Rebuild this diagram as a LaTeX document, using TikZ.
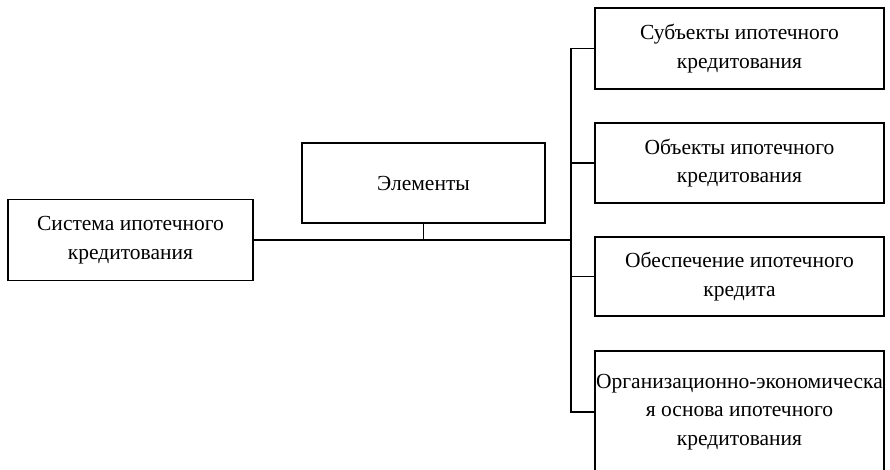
\documentclass[tikz,border=0pt]{standalone}
\usepackage{fontspec}
\setmainfont{Liberation Serif}
\tikzset{blk/.style={draw=black, line width=1.8pt, align=center, inner sep=0pt, font=\fontsize{21.5}{28.5}\selectfont},
         lnk/.style={black, line width=1.8pt}}

\begin{document}
\begin{tikzpicture}[x=1pt,y=-1pt]
\useasboundingbox (0,0) rectangle (890,470);
% left part
\node [blk, minimum width=245pt, minimum height=81pt] (sys) at (130.5,240) {Система ипотечного\\кредитования};
\node [blk, minimum width=243pt, minimum height=80pt] (elem) at (423.5,183) {Элементы};
% right column
\node [blk, minimum width=289pt, minimum height=81pt] (subj) at (739.5,48.5) {Субъекты ипотечного\\кредитования};
\node [blk, minimum width=289pt, minimum height=80pt] (obj) at (739.5,163) {Объекты ипотечного\\кредитования};
\node [blk, minimum width=289pt, minimum height=79pt] (sec) at (739.5,276.5) {Обеспечение ипотечного\\кредита};
\node [blk, minimum width=289pt, minimum height=122pt] (org) at (739.5,412) {Организационно-экономическа\\я основа ипотечного\\кредитования};
\coordinate (tr) at (571,240);
% connectors
\draw [lnk] (sys.east) -- (tr);
\draw [lnk] (elem.south) -- (elem.south |- tr);
\draw [lnk] (subj.west) -- (subj.west -| tr) -- (org.west -| tr) -- (org.west);
\draw [lnk] (obj.west) -- (obj.west -| tr);
\draw [lnk] (sec.west) -- (sec.west -| tr);
\end{tikzpicture}
\end{document}
